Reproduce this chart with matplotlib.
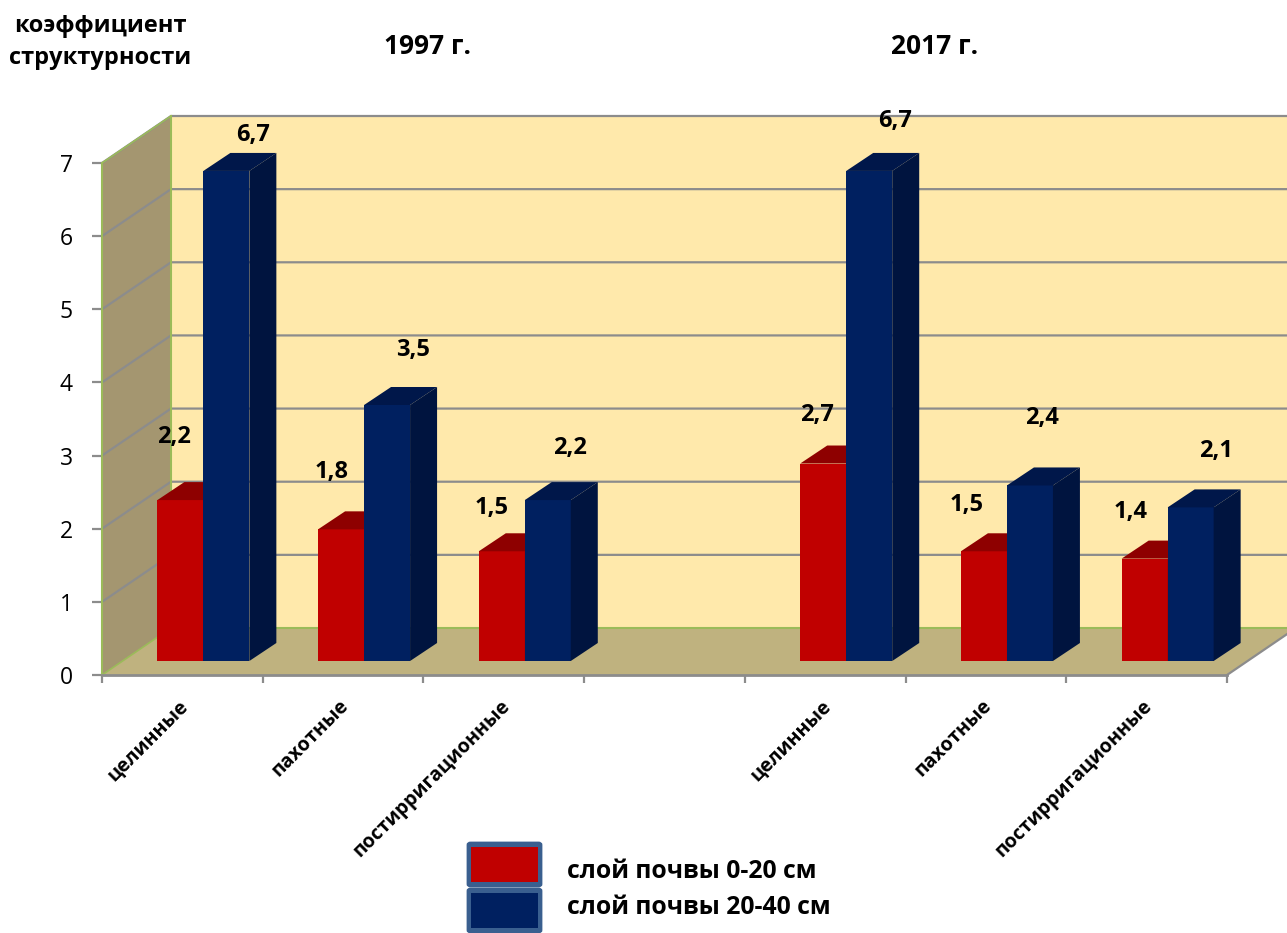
import matplotlib
matplotlib.use('Agg')
import matplotlib.pyplot as plt
from matplotlib.patches import FancyBboxPatch, Rectangle

plt.rcParams['font.family'] = ['Open Sans', 'DejaVu Sans']

categories = ['целинные', 'пахотные', 'постирригационные', '',
              'целинные', 'пахотные', 'постирригационные']
layer_0_20 = [2.2, 1.8, 1.5, None, 2.7, 1.5, 1.4]
layer_20_40 = [6.7, 3.5, 2.2, None, 6.7, 2.4, 2.1]
labels_0_20 = ['2,2', '1,8', '1,5', '', '2,7', '1,5', '1,4']
labels_20_40 = ['6,7', '3,5', '2,2', '', '6,7', '2,4', '2,1']
yticks = [0, 1, 2, 3, 4, 5, 6, 7]

# hand placed data labels, pixels from the bar top
offsets_0_20 = [(-6, 63), (-9, 57), (-10, 43), None, (-6, 49), (-17, 46), (-14, 47)]
offsets_20_40 = [(27, 36), (26, 55), (22, 52), None, (26, 50), (12, 67), (25, 56)]

W, H = 1287, 933
fig = plt.figure(figsize=(W / 100, H / 100), dpi=100)
ax = fig.add_axes([102 / W, 1 - 675 / H, 1125 / W, 512 / H])
ax.set_xlim(0, 7)
ax.set_ylim(0, 7)

px = 7 / 1125   # one pixel in x data units
py = 7 / 512    # one pixel in y data units
wall_dx, wall_dy = 69 * px, 47 * py
front_dx, front_dy = 21 * px, 14 * py
bar_dx, bar_dy = 27 * px, 18 * py
bar_w = 46 * px

grid_c = '#8C8C8C'
edge_c = '#9BBB59'

# back wall, side wall, floor
ax.fill([wall_dx, 7 + wall_dx, 7 + wall_dx, wall_dx], [wall_dy, wall_dy, 7 + wall_dy, 7 + wall_dy],
        color='#FFE9AB', lw=0, clip_on=False, zorder=1)
ax.fill([0, wall_dx, wall_dx, 0], [0, wall_dy, 7 + wall_dy, 7],
        color='#A49670', lw=0, clip_on=False, zorder=1)
ax.fill([0, 7, 7 + wall_dx, wall_dx], [0, 0, wall_dy, wall_dy],
        color='#BFB27F', lw=0, clip_on=False, zorder=1)

for t in yticks[1:]:
    ax.plot([0, wall_dx, 7 + wall_dx], [t, t + wall_dy, t + wall_dy], color=grid_c, lw=1.6,
            clip_on=False, zorder=2, solid_joinstyle='miter')
ax.plot([wall_dx, 7 + wall_dx], [wall_dy, wall_dy], color=edge_c, lw=1.5, clip_on=False, zorder=2)
ax.plot([wall_dx, wall_dx], [wall_dy, 7 + wall_dy], color=edge_c, lw=1.5, clip_on=False, zorder=2)
ax.plot([0, wall_dx, ], [0, wall_dy], color=edge_c, lw=1.2, clip_on=False, zorder=2)
ax.plot([0, wall_dx], [7, 7 + wall_dy], color=edge_c, lw=1.2, clip_on=False, zorder=2)
ax.plot([7, 7 + wall_dx], [0, wall_dy], color=grid_c, lw=1.6, clip_on=False, zorder=2)


def bar3d(x, v, front, top, side, z):
    ax.bar(x, v, bar_w, bottom=front_dy, align='edge', color=front, lw=0, clip_on=False, zorder=z)
    y0, y1 = front_dy, front_dy + v
    ax.fill([x, x + bar_w, x + bar_w + bar_dx, x + bar_dx], [y1, y1, y1 + bar_dy, y1 + bar_dy],
            color=top, lw=0, clip_on=False, zorder=z)
    ax.fill([x + bar_w, x + bar_w + bar_dx, x + bar_w + bar_dx, x + bar_w],
            [y0, y0 + bar_dy, y1 + bar_dy, y1], color=side, lw=0, clip_on=False, zorder=z)


for i, cat in enumerate(categories):
    if layer_0_20[i] is None:
        continue
    x_mid = i + 0.5 + front_dx
    z = 3 + i
    bar3d(x_mid - bar_w, layer_0_20[i], '#C00000', '#8E0000', '#8E0000', z)
    bar3d(x_mid, layer_20_40[i], '#002060', '#00174A', '#00143F', z)
    ax.annotate(labels_0_20[i], (x_mid - bar_w / 2, layer_0_20[i] + front_dy), xytext=offsets_0_20[i],
                textcoords='offset pixels', ha='center', va='center', fontsize=17, fontweight='bold',
                annotation_clip=False, zorder=20)
    ax.annotate(labels_20_40[i], (x_mid + bar_w / 2, layer_20_40[i] + front_dy), xytext=offsets_20_40[i],
                textcoords='offset pixels', ha='center', va='center', fontsize=17, fontweight='bold',
                annotation_clip=False, zorder=20)

# axes
for s in ['top', 'right']:
    ax.spines[s].set_visible(False)
ax.spines['left'].set_color(edge_c)
ax.spines['left'].set_linewidth(1.5)
ax.spines['bottom'].set_color(grid_c)
ax.spines['bottom'].set_linewidth(2)
ax.set_yticks(yticks)
ax.tick_params(axis='y', length=7, width=1.6, color=grid_c, labelsize=16.5, pad=14)
ax.set_xticks(range(8))
ax.set_xticklabels([])
ax.tick_params(axis='x', length=6, width=1.6, color=grid_c)
ax.set_xticks([i + 0.475 for i in range(7)], minor=True)
ax.set_xticklabels(categories, minor=True, rotation=45, ha='right', va='top', rotation_mode='anchor',
                   fontsize=14, fontweight='bold')
ax.tick_params(axis='x', which='minor', length=0, pad=15)

# titles
fig.text(100 / W, 1 - 42 / H, 'коэффициент\nструктурности', ha='center', va='center',
         fontsize=17, fontweight='bold', linespacing=1.4)
fig.text(427 / W, 1 - 46 / H, '1997 г.', ha='center', va='center', fontsize=19, fontweight='bold')
fig.text(935 / W, 1 - 46 / H, '2017 г.', ha='center', va='center', fontsize=19, fontweight='bold')

# legend
legend_names = ['слой почвы 0-20 см', 'слой почвы 20-40 см']
legend_colors = ['#C00000', '#002060']
for k, (name, col) in enumerate(zip(legend_names, legend_colors)):
    top = 843 + 46 * k
    fig.add_artist(FancyBboxPatch((468 / W, 1 - (top + 43) / H), 73 / W, 43 / H,
                                  boxstyle='round,pad=0,rounding_size=0.002', transform=fig.transFigure,
                                  facecolor='#3A5F8F', edgecolor='#3A5F8F', lw=2, clip_on=True))
    fig.add_artist(Rectangle((471 / W, 1 - (top + 39) / H), 67 / W, 35 / H, transform=fig.transFigure,
                             facecolor=col, edgecolor='none'))
    fig.text(567 / W, 1 - (871 + 36 * k) / H, name, ha='left', va='center', fontsize=17.8, fontweight='bold')

fig.savefig('out.png', dpi=100)
